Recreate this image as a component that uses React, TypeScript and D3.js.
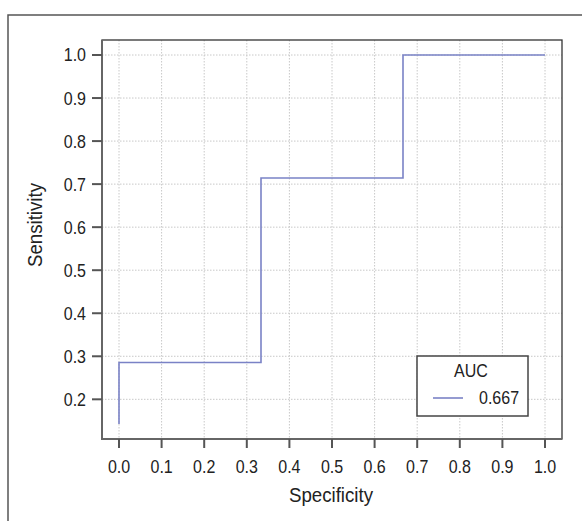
import React, { useRef, useEffect } from 'react';
import * as d3 from 'd3';

const specificity = [0, 0, 1 / 3, 1 / 3, 2 / 3, 2 / 3, 1];
const sensitivity = [1 / 7, 2 / 7, 2 / 7, 5 / 7, 5 / 7, 1, 1];
const xTicks = [0, 0.1, 0.2, 0.3, 0.4, 0.5, 0.6, 0.7, 0.8, 0.9, 1.0];
const yTicks = [0.2, 0.3, 0.4, 0.5, 0.6, 0.7, 0.8, 0.9, 1.0];
const aucLabel = '0.667';

const FONT = '"Liberation Sans", Arial, sans-serif';
const LINE = '#7a82c6';
const SQUEEZE = 0.89; // condensed look

const App = () => {
  const svgRef = useRef<SVGSVGElement>(null);

  useEffect(() => {
    const svg = d3.select(svgRef.current);
    svg.selectAll('*').remove();

    const plot = { left: 102, right: 562, top: 40, bottom: 439 };
    const x = d3.scaleLinear().domain([0, 1]).range([119, 545]);
    const y = d3.scaleLinear().domain([0, 1]).range([485.4, 55]);

    // outer frame
    svg.append('rect')
      .attr('x', 8).attr('y', 15).attr('width', 600).attr('height', 600)
      .attr('fill', 'white').attr('stroke', '#555').attr('stroke-width', 1.5);

    // grid
    const grid = svg.append('g').attr('stroke', '#c8c8c8').attr('stroke-dasharray', '1.5,1.5').attr('stroke-width', 1);
    grid.selectAll('.gx').data(xTicks).enter().append('line')
      .attr('x1', d => x(d)).attr('x2', d => x(d))
      .attr('y1', plot.top).attr('y2', plot.bottom);
    grid.selectAll('.gy').data(yTicks).enter().append('line')
      .attr('y1', d => y(d)).attr('y2', d => y(d))
      .attr('x1', plot.left).attr('x2', plot.right);

    // curve
    const line = d3.line<number>()
      .x((_, i) => x(specificity[i]))
      .y(d => y(d));
    svg.append('path')
      .datum(sensitivity)
      .attr('d', line)
      .attr('fill', 'none')
      .attr('stroke', LINE)
      .attr('stroke-width', 1.6);

    // plot box
    svg.append('rect')
      .attr('x', plot.left).attr('y', plot.top)
      .attr('width', plot.right - plot.left).attr('height', plot.bottom - plot.top)
      .attr('fill', 'none').attr('stroke', '#333').attr('stroke-width', 1.3);
    svg.append('path')
      .attr('d', `M${plot.left},${plot.top}V${plot.bottom}H${plot.right}`)
      .attr('fill', 'none').attr('stroke', '#666').attr('stroke-width', 2);

    // ticks
    const ax = svg.append('g').attr('stroke', '#555').attr('stroke-width', 2);
    ax.selectAll('.tx').data(xTicks).enter().append('line')
      .attr('x1', d => x(d)).attr('x2', d => x(d))
      .attr('y1', plot.bottom).attr('y2', plot.bottom + 9);
    ax.selectAll('.ty').data(yTicks).enter().append('line')
      .attr('y1', d => y(d)).attr('y2', d => y(d))
      .attr('x1', plot.left - 10).attr('x2', plot.left);

    const txt = svg.append('g').attr('font-family', FONT).attr('fill', '#222');
    txt.selectAll('.lx').data(xTicks).enter().append('text')
      .attr('transform', d => `translate(${x(d)},473) scale(${SQUEEZE},1)`)
      .attr('text-anchor', 'middle').attr('font-size', 18)
      .text(d => d3.format('.1f')(d));
    txt.selectAll('.ly').data(yTicks).enter().append('text')
      .attr('transform', d => `translate(86,${y(d)}) scale(${SQUEEZE},1)`)
      .attr('dy', '0.36em')
      .attr('text-anchor', 'end').attr('font-size', 18)
      .text(d => d3.format('.1f')(d));

    txt.append('text')
      .attr('transform', `translate(331,502) scale(${SQUEEZE},1)`)
      .attr('text-anchor', 'middle').attr('font-size', 21)
      .text('Specificity');
    txt.append('text')
      .attr('transform', `translate(42,225) rotate(-90) scale(${SQUEEZE},1)`)
      .attr('text-anchor', 'middle').attr('font-size', 21)
      .text('Sensitivity');

    // legend
    const lg = svg.append('g');
    lg.append('rect')
      .attr('x', 417).attr('y', 356).attr('width', 111).attr('height', 60)
      .attr('fill', 'white').attr('stroke', '#444').attr('stroke-width', 1.5);
    lg.append('text')
      .attr('transform', `translate(471,377) scale(${SQUEEZE},1)`)
      .attr('text-anchor', 'middle')
      .attr('font-family', FONT).attr('font-size', 18).attr('fill', '#222')
      .text('AUC');
    lg.append('line')
      .attr('x1', 433).attr('x2', 463).attr('y1', 398).attr('y2', 398)
      .attr('stroke', LINE).attr('stroke-width', 1.6);
    lg.append('text')
      .attr('transform', `translate(479,404) scale(${SQUEEZE},1)`)
      .attr('font-family', FONT).attr('font-size', 18).attr('fill', '#222')
      .text(aucLabel);
  }, []);

  return (
    <svg ref={svgRef} width={582} height={521} style={{ position: 'absolute', left: 0, top: 0 }} />
  );
};

export default App;
